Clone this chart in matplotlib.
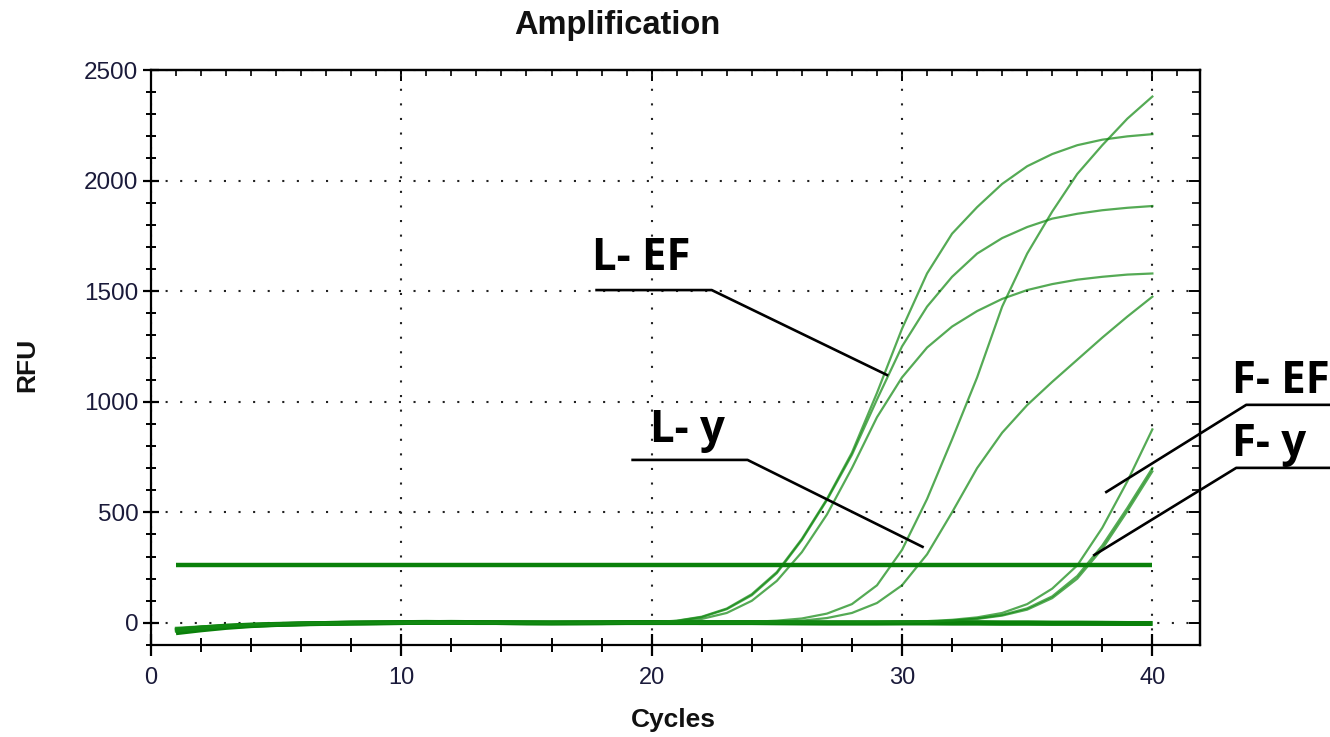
import matplotlib
matplotlib.use("Agg")
import matplotlib.pyplot as plt
from matplotlib.ticker import MultipleLocator

plt.rcParams['font.family'] = ['Liberation Sans', 'DejaVu Sans']

# cycle numbers
cycles = list(range(1, 41))

# RFU per cycle (cycles 1..40)
l_ef_1 = [-28, -20, -13, -8, -5, -3, -2, -1, 0, 1, 1, 1, 0, 0, -1, -1, 0, 0, 1,
          3, 10, 28, 65, 130, 230, 380, 560, 770, 1040, 1330,
          1580, 1760, 1880, 1985, 2065, 2120, 2160, 2185, 2200, 2210]
l_ef_2 = [-35, -25, -16, -10, -6, -4, -2, -1, 0, 0, 1, 1, 1, 0, 0, -1, 0, 0, 1,
          3, 9, 26, 62, 125, 225, 375, 555, 760, 1010, 1250,
          1430, 1565, 1670, 1740, 1790, 1828, 1850, 1866, 1877, 1885]
l_ef_3 = [-22, -16, -10, -6, -4, -2, -1, 0, 0, 1, 1, 0, 0, 0, -1, 0, 0, 1, 1,
          2, 6, 18, 45, 100, 190, 320, 490, 700, 930, 1110,
          1245, 1340, 1410, 1465, 1505, 1532, 1552, 1565, 1575, 1580]
l_y_1 = [-30, -21, -14, -9, -5, -3, -2, -1, 0, 0, 1, 1, 0, 0, 0, -1, 0, 0, 0,
         0, 1, 2, 3, 5, 10, 20, 42, 85, 170, 330,
         560, 830, 1110, 1430, 1670, 1860, 2030, 2160, 2280, 2380]
l_y_2 = [-40, -28, -18, -11, -7, -4, -2, -1, 0, 0, 1, 1, 1, 0, 0, 0, -1, 0, 0,
         0, 1, 1, 2, 3, 5, 10, 22, 45, 90, 170,
         310, 500, 700, 860, 985, 1090, 1190, 1290, 1385, 1475]
f_ef = [-25, -18, -12, -7, -4, -2, -1, 0, 0, 1, 1, 1, 0, 0, 0, 0, -1, 0, 0,
        0, 0, 1, 1, 1, 1, 2, 2, 3, 4, 5,
        8, 14, 25, 45, 85, 155, 260, 430, 640, 875]
f_y_1 = [-33, -23, -15, -9, -6, -3, -2, -1, 0, 0, 1, 1, 1, 0, 0, 0, 0, 0, 1,
         1, 1, 1, 1, 1, 1, 2, 2, 2, 3, 4,
         6, 11, 20, 36, 66, 120, 212, 350, 520, 700]
f_y_2 = [-27, -19, -12, -8, -5, -3, -1, 0, 0, 1, 1, 1, 0, 0, 0, 0, 0, 1, 1,
         1, 1, 1, 1, 1, 2, 2, 2, 3, 3, 3,
         5, 10, 18, 33, 60, 112, 200, 335, 505, 685]
samples = [l_ef_1, l_ef_2, l_ef_3, l_y_1, l_y_2, f_ef, f_y_1, f_y_2]

# no-template wells, flat around zero
ntc_1 = [-38, -26, -17, -11, -7, -4, -2, -1, 0, 1, 2, 2, 1, 1, 0, 0, 0, 1, 1, 1,
         1, 1, 1, 1, 1, 0, 0, 0, 0, 0, 0, 0, 0, -1, -1, -1, -1, -2, -2, -2]
ntc_2 = [-45, -32, -21, -13, -8, -5, -3, -1, 0, 1, 2, 3, 2, 1, 0, 0, 1, 1, 2, 2,
         2, 1, 1, 1, 0, 0, 0, 0, 0, 1, 1, 1, 1, 0, 0, -1, -1, -1, -2, -2]
ntc_3 = [-32, -22, -14, -9, -6, -4, -2, 0, 1, 2, 3, 2, 2, 1, 1, 0, 0, 0, 1, 1,
         1, 1, 1, 1, 1, 1, 0, 0, 0, 0, 0, -1, -1, -1, -1, -2, -2, -2, -3, -3]
controls = [ntc_1, ntc_2, ntc_3]

threshold = 263

# callout labels: text, text anchor, leader line points (cycles, RFU)
labels = ['L- EF', 'L- y', 'F- EF', 'F- y']
label_xy = [(17.6, 1596), (19.92, 818), (43.19, 1040), (43.19, 755)]
leaders = [
    [(17.8, 1505), (22.4, 1505), (29.4, 1121)],
    [(19.24, 737), (23.83, 737), (30.82, 344)],
    [(38.16, 592), (43.75, 986), (47.1, 986)],
    [(37.68, 307), (43.35, 701), (47.1, 701)],
]

green = '#138a13'

fig = plt.figure(figsize=(13.3, 7.37), dpi=100)
ax = fig.add_axes([0.1135, 0.1248, 0.7887, 0.7802])

for ys in controls:
    ax.plot(cycles, ys, color='#0a800a', linewidth=3.4, solid_capstyle='butt')
for ys in samples:
    ax.plot(cycles, ys, color=green, linewidth=1.6, alpha=0.72)
ax.plot([cycles[0], cycles[-1]], [threshold, threshold], color='#0a800a',
        linewidth=3.2, solid_capstyle='butt')

ax.set_xlim(0, 41.9)
ax.set_ylim(-100, 2500)

ax.xaxis.set_major_locator(MultipleLocator(10))
ax.xaxis.set_minor_locator(MultipleLocator(2))
ax.yaxis.set_major_locator(MultipleLocator(500))
ax.yaxis.set_minor_locator(MultipleLocator(100))

ax.grid(True, which='major', color='#222222', linestyle=(0, (1, 6)), linewidth=1.5)

ax.tick_params(axis='x', which='major', direction='inout', length=16, width=1.6,
               labelsize=17, pad=8, labelcolor='#1a1a3a')
ax.tick_params(axis='x', which='minor', direction='inout', length=10, width=1.4)
ax.tick_params(axis='y', which='major', direction='inout', length=12, width=1.6,
               labelsize=17.5, pad=3, labelcolor='#1a1a3a')
ax.tick_params(axis='y', which='minor', direction='inout', length=7, width=1.4)

top = ax.secondary_xaxis('top')
top.xaxis.set_major_locator(MultipleLocator(10))
top.xaxis.set_minor_locator(MultipleLocator(1))
top.tick_params(which='major', direction='in', length=8, width=1.4, labeltop=False)
top.tick_params(which='minor', direction='in', length=4, width=1.2)
right = ax.secondary_yaxis('right')
right.yaxis.set_major_locator(MultipleLocator(500))
right.yaxis.set_minor_locator(MultipleLocator(100))
right.tick_params(which='major', direction='in', length=8, width=1.4, labelright=False)
right.tick_params(which='minor', direction='in', length=6, width=1.2)

for sp in list(ax.spines.values()) + [top.spines['top'], right.spines['right']]:
    sp.set_linewidth(1.6)
    sp.set_color('black')

for text, (tx, ty), pts in zip(labels, label_xy, leaders):
    xs = [p[0] for p in pts]
    ys = [p[1] for p in pts]
    ax.plot(xs, ys, color='black', linewidth=1.9, clip_on=False)
    ax.text(tx, ty, text, fontsize=31.5, fontweight='bold', family='Open Sans',
            ha='left', va='baseline', clip_on=False)

fig.text(0.464, 0.965, 'Amplification', fontsize=23.5, fontweight='bold',
         ha='center', va='center', color='#111111')
fig.text(0.0203, 0.505, 'RFU', fontsize=19, fontweight='bold', rotation=90,
         ha='center', va='center', color='#111111')
fig.text(0.506, 0.023, 'Cycles', fontsize=19, fontweight='bold',
         ha='center', va='center', color='#111111')

fig.savefig('out.png', dpi=100)
